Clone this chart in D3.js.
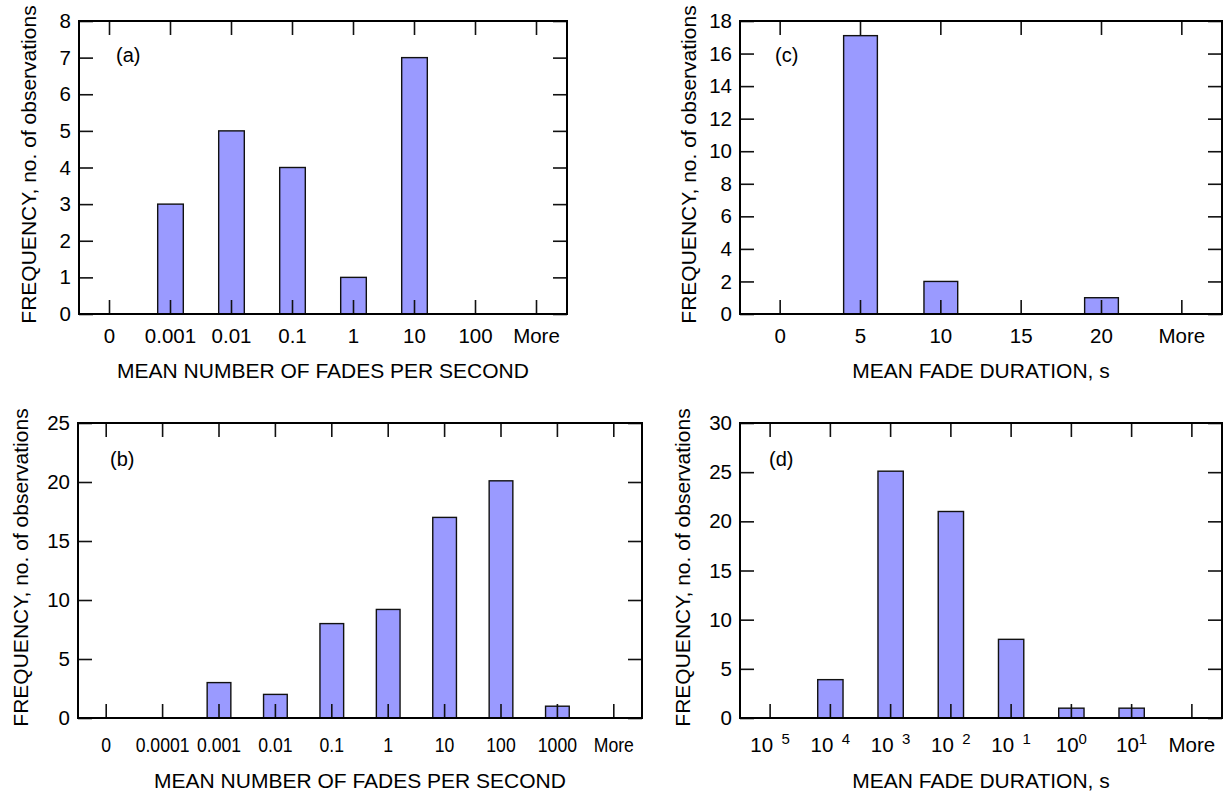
<!DOCTYPE html>
<html lang="en">
  <meta charset="utf-8">
  <style>
    body{
      margin: 0;
      background: #fff;
    }
    text{
      font-family: Arial, "Liberation Sans", sans-serif;
      fill: #000;
    }
  </style>
  <body>
    <svg width="1224" height="797"></svg>

    <script src="https://d3js.org/d3.v7.min.js"></script>
    <script>
      // (a) mean number of fades per second
      let catsA = ['0','0.001','0.01','0.1','1','10','100','More']
      let valsA = [0, 3, 5, 4, 1, 7, 0, 0]
      let yTicksA = [0,1,2,3,4,5,6,7,8]

      // (b) mean number of fades per second
      let catsB = ['0','0.0001','0.001','0.01','0.1','1','10','100','1000','More']
      let valsB = [0, 0, 3, 2, 8, 9.2, 17, 20.1, 1, 0]
      let yTicksB = [0,5,10,15,20,25]

      // (c) mean fade duration
      let catsC = ['0','5','10','15','20','More']
      let valsC = [0, 17.1, 2, 0, 1, 0]
      let yTicksC = [0,2,4,6,8,10,12,14,16,18]

      // (d) mean fade duration, powers of ten
      let catsD = ['-5','-4','-3','-2','-1','0','1','More']
      let valsD = [0, 3.9, 25.1, 21, 8, 1, 1, 0]
      let yTicksD = [0,5,10,15,20,25,30]

      let svg = d3.select('svg')
      svg.append('rect').attr('width', 1224).attr('height', 797).attr('fill', '#fff')

      let tick = 14

      function panel(opt){
        let w = opt.right - opt.left
        let h = opt.bottom - opt.top
        let g = svg.append('g').attr('transform', `translate(${opt.left},${opt.top})`)

        let x = d3.scaleBand().domain(opt.cats).range([0, w]).padding(0)
        let y = d3.scaleLinear().domain([0, d3.max(opt.yTicks)]).range([h, 0])
        let bw = x.bandwidth() * 0.42

        g.append('g')
          .selectAll('rect')
          .data(opt.cats.map((c, i) => ({cat: c, value: opt.vals[i]})).filter(d => d.value > 0))
          .enter()
          .append('rect')
          .attr('x', d => x(d.cat) + x.bandwidth() / 2 - bw / 2)
          .attr('y', d => y(d.value))
          .attr('width', bw)
          .attr('height', d => h - y(d.value))
          .attr('fill', '#9a9aff')
          .attr('stroke', '#111')
          .attr('stroke-width', 1.4)

        let bottomAxis = g.append('g')
          .attr('transform', `translate(0,${h})`)
          .call(d3.axisBottom(x).tickSizeInner(-tick).tickSizeOuter(0).tickPadding(opt.pad))
        g.append('g')
          .call(d3.axisTop(x).tickSizeInner(-tick).tickSizeOuter(0).tickFormat(''))
        g.append('g')
          .call(d3.axisLeft(y).tickValues(opt.yTicks).tickSizeInner(-tick).tickSizeOuter(0).tickPadding(8))
        g.append('g')
          .attr('transform', `translate(${w},0)`)
          .call(d3.axisRight(y).tickValues(opt.yTicks).tickSizeInner(-tick).tickSizeOuter(0).tickFormat(''))

        g.selectAll('.domain').remove()
        g.selectAll('.tick line').attr('stroke', '#111').attr('stroke-width', 1.6)
        g.selectAll('.tick text').attr('font-size', '20.5px').attr('font-family', null)

        if(opt.squeeze){
          bottomAxis.selectAll('.tick text')
            .attr('transform', `scale(${opt.squeeze},1)`)
        }

        if(opt.power){
          bottomAxis.selectAll('.tick text').each(function(d){
            let t = d3.select(this)
            if(d === 'More') return
            t.text(null)
            t.append('tspan').text('10')
            let e = +d
            t.append('tspan')
              .attr('dx', e < 0 ? 8.5 : 0)
              .attr('dy', -8)
              .attr('font-size', '15px')
              .text(Math.abs(e))
          })
        }

        g.append('rect')
          .attr('width', w)
          .attr('height', h)
          .attr('fill', 'none')
          .attr('stroke', '#000')
          .attr('stroke-width', 2)

        g.append('text')
          .attr('x', opt.labelX)
          .attr('y', opt.labelY)
          .attr('font-size', '20px')
          .text(opt.label)

        g.append('text')
          .attr('x', w / 2)
          .attr('y', h + opt.titleGap)
          .attr('text-anchor', 'middle')
          .attr('font-size', '21px')
          .text(opt.xTitle)

        svg.append('text')
          .attr('transform', `translate(${opt.yTitleX},${opt.top + h / 2 - 3}) rotate(-90)`)
          .attr('text-anchor', 'middle')
          .attr('font-size', '21px')
          .text('FREQUENCY, no. of observations')
      }

      panel({cats: catsA, vals: valsA, yTicks: yTicksA, left: 79, right: 567, top: 21, bottom: 314,
        pad: 14.5, titleGap: 64, label: '(a)', labelX: 37, labelY: 41, yTitleX: 36,
        xTitle: 'MEAN NUMBER OF FADES PER SECOND'})
      panel({cats: catsC, vals: valsC, yTicks: yTicksC, left: 740, right: 1222, top: 21, bottom: 314,
        pad: 14.5, titleGap: 64, label: '(c)', labelX: 35, labelY: 41, yTitleX: 696,
        xTitle: 'MEAN FADE DURATION, s'})
      panel({cats: catsB, vals: valsB, yTicks: yTicksB, left: 78, right: 642, top: 423, bottom: 718,
        pad: 19.5, titleGap: 70, label: '(b)', labelX: 32, labelY: 43, yTitleX: 28, squeeze: 0.86,
        xTitle: 'MEAN NUMBER OF FADES PER SECOND'})
      panel({cats: catsD, vals: valsD, yTicks: yTicksD, left: 740, right: 1222, top: 423, bottom: 718,
        pad: 19.5, titleGap: 70, label: '(d)', labelX: 29, labelY: 43, yTitleX: 690, power: true,
        xTitle: 'MEAN FADE DURATION, s'})
    </script>
</body>
</html>
